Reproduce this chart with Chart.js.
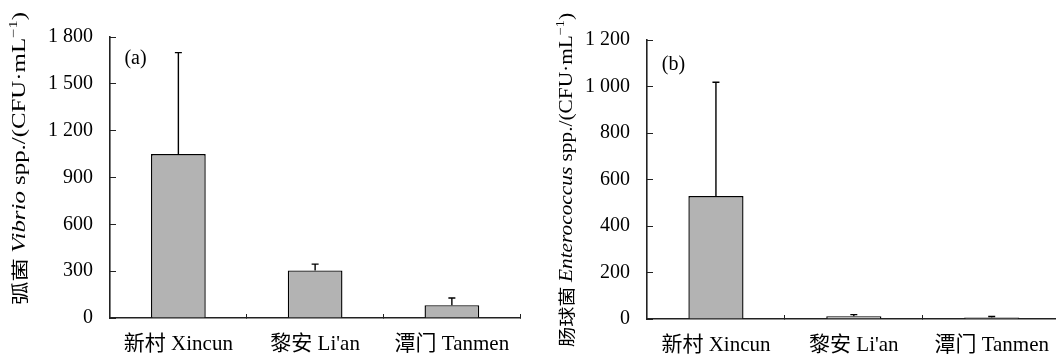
<!DOCTYPE html>
<html>
<head>
<meta charset="utf-8">
<script src="https://cdn.jsdelivr.net/npm/chart.js@4.4.0/dist/chart.umd.min.js"></script>
<style>
    html, body { margin: 0; padding: 0; background: #fff; overflow: hidden; }
    #wrap { position: relative; width: 1056px; height: 357px; overflow: hidden; }
    .box { position: absolute; top: 0; height: 357px; }
</style>
</head>
<body>
<div id="wrap">
    <div class="box" style="left:0; width:528px;"><canvas id="chartA"></canvas></div>
    <div class="box" style="left:528px; width:540px;"><canvas id="chartB"></canvas></div>
</div>
<script>
const sites = ["新村 Xincun", "黎安 Li'an", "潭门 Tanmen"];

const vibrioMean = [1050, 305, 82];
const vibrioErr = [650, 40, 46];

const enteroMean = [529, 12, 6];
const enteroErr = [489, 7, 5];

const vibrioAxis = { max: 1800, step: 300 };
const enteroAxis = { max: 1200, step: 200 };

const serif = "'Liberation Serif', 'Times New Roman', 'Noto Sans CJK SC', serif";

function formatTick(v) {
    if (v >= 1000) {
        return Math.floor(v / 1000) + " " + String(v % 1000).padStart(3, "0");
    }
    return String(v);
}

// error bars from the mean up to mean + err
const errorBars = {
    id: "errorBars",
    afterDatasetsDraw(chart, args, opts) {
        const meta = chart.getDatasetMeta(0);
        const yScale = chart.scales.y;
        const ctx = chart.ctx;
        ctx.save();
        ctx.strokeStyle = "#000";
        ctx.lineWidth = 1.4;
        meta.data.forEach((bar, i) => {
            const top = yScale.getPixelForValue(opts.means[i] + opts.errs[i]);
            ctx.beginPath();
            ctx.moveTo(bar.x, bar.y);
            ctx.lineTo(bar.x, top);
            ctx.moveTo(bar.x - 3.5, top);
            ctx.lineTo(bar.x + 3.5, top);
            ctx.stroke();
        });
        ctx.restore();
    }
};

// rotated y title with italic genus name, plus the panel tag
const panelText = {
    id: "panelText",
    afterDraw(chart, args, opts) {
        const ctx = chart.ctx;
        const area = chart.chartArea;
        ctx.save();
        ctx.fillStyle = "#000";
        ctx.font = "20px " + serif;
        ctx.textAlign = "center";
        ctx.textBaseline = "middle";
        ctx.fillText(opts.tag, area.left + opts.tagDx, area.top + opts.tagDy);

        ctx.translate(opts.titleX, opts.titleY);
        ctx.rotate(-Math.PI / 2);
        let total = 0;
        opts.parts.forEach(p => {
            ctx.font = p.font;
            total += ctx.measureText(p.text).width;
        });
        ctx.scale(opts.titleLen / total, 1);
        let cx = -total / 2;
        ctx.textAlign = "left";
        ctx.textBaseline = "middle";
        opts.parts.forEach(p => {
            ctx.font = p.font;
            ctx.fillText(p.text, cx, p.dy || 0);
            cx += ctx.measureText(p.text).width;
        });
        ctx.restore();
    }
};

function titleParts(cn, genus) {
    return [
        { text: cn + " ", font: "17px 'Noto Sans CJK SC', sans-serif" },
        { text: genus, font: "italic 18px " + serif },
        { text: " spp./(CFU·mL", font: "18px " + serif },
        { text: "−1", font: "12px " + serif, dy: -6 },
        { text: ")", font: "18px " + serif }
    ];
}

function makeChart(canvasId, means, errs, axis, box, text) {
    return new Chart(document.getElementById(canvasId), {
        type: "bar",
        data: {
            labels: sites,
            datasets: [{
                data: means,
                backgroundColor: "#b3b3b3",
                borderColor: "#000",
                borderWidth: 1.4,
                barPercentage: 0.4,
                categoryPercentage: 1.0
            }]
        },
        options: {
            responsive: true,
            maintainAspectRatio: false,
            animation: false,
            layout: { padding: { top: box.top, right: box.right, left: 0, bottom: 0 } },
            plugins: {
                legend: { display: false },
                tooltip: { enabled: false },
                errorBars: { means: means, errs: errs },
                panelText: text
            },
            scales: {
                x: {
                    grid: {
                        drawOnChartArea: false,
                        drawTicks: true,
                        tickLength: -4,
                        color: "#222",
                        lineWidth: 1
                    },
                    border: { color: "#222", width: 1.6 },
                    ticks: {
                        color: "#000",
                        padding: 18,
                        font: { family: serif, size: 21 }
                    },
                    afterFit(scale) { scale.height = box.xHeight; }
                },
                y: {
                    min: 0,
                    max: axis.max,
                    grid: {
                        drawOnChartArea: false,
                        drawTicks: true,
                        tickLength: -6,
                        color: "#222",
                        lineWidth: 1
                    },
                    border: { color: "#222", width: 1.6 },
                    ticks: {
                        stepSize: axis.step,
                        color: "#000",
                        padding: 23,
                        font: { family: serif, size: 20 },
                        callback: (v) => formatTick(v)
                    },
                    afterFit(scale) { scale.width = box.yWidth; }
                }
            }
        },
        plugins: [errorBars, panelText]
    });
}

makeChart("chartA", vibrioMean, vibrioErr, vibrioAxis,
    { top: 37, right: 5, xHeight: 39, yWidth: 110 },
    { tag: "(a)", tagDx: 25.5, tagDy: 22, titleX: 20, titleY: 158.5, titleLen: 293,
      parts: titleParts("弧菌", "Vibrio") });

makeChart("chartB", enteroMean, enteroErr, enteroAxis,
    { top: 40, right: 6, xHeight: 38, yWidth: 119 },
    { tag: "(b)", tagDx: 26.5, tagDy: 25, titleX: 567 - 528, titleY: 180, titleLen: 334,
      parts: titleParts("肠球菌", "Enterococcus") });
</script>
</body>
</html>
